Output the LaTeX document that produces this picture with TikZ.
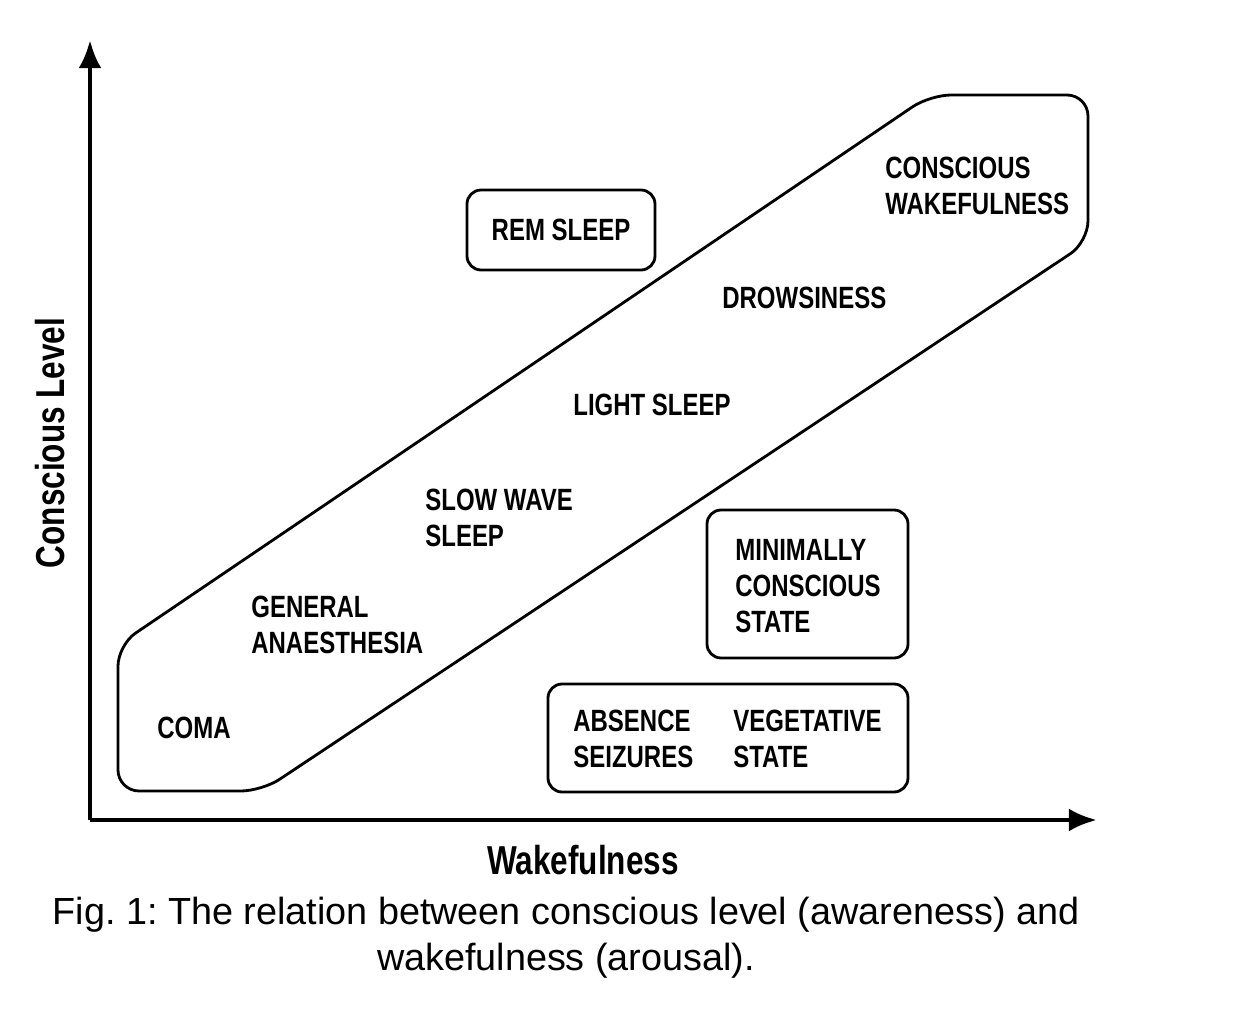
\documentclass[tikz,border=0pt]{standalone}
\usepackage{fontspec}
\setmainfont{Liberation Sans}
\newfontfamily\lblfont[FakeStretch=0.78]{Liberation Sans}
\usetikzlibrary{calc,positioning}
\tikzset{
  lbl/.style={font=\lblfont\bfseries\fontsize{17.5}{20.5}\selectfont,align=left,anchor=west,inner sep=0pt},
  box/.style={draw,line width=1.6pt,rounded corners=8pt},
  axis/.style={line width=2.6pt,-{Latex[length=16pt,width=13pt]}}
}
\usetikzlibrary{arrows.meta}
\frenchspacing
\begin{document}
\begin{tikzpicture}[x=0.02cm,y=-0.02cm]
  \useasboundingbox (0,0) rectangle (1248,1010);
  % axes
  \coordinate (o) at (90,820);
  \coordinate (ytop) at (90,40);
  \coordinate (xend) at (1097,820);
  \draw[axis] (o) -- (ytop);
  \draw[axis] (o) -- (xend);
  \node[font=\lblfont\bfseries\fontsize{23}{25}\selectfont,rotate=90] (ylab) at (50,443) {Conscious Level};
  \node[font=\lblfont\bfseries\fontsize{23}{25}\selectfont] (xlab) at (583,860) {Wakefulness};
  % band
  \draw[line width=1.6pt,rounded corners=12pt] (118,645) -- (930,95) -- (1088,95) -- (1088,242) -- (262,791) -- (118,791) -- cycle;
  % boxes
  \draw[box] (467,190) rectangle (655,270);
  \draw[box] (707,510) rectangle (908,658);
  \draw[box] (548,684) rectangle (908,792);
  % labels
  \node[lbl] (cw) at (885,186) {CONSCIOUS\\WAKEFULNESS};
  \node[lbl] (dr) at (722,298) {DROWSINESS};
  \node[lbl] (ls) at (573,405) {LIGHT SLEEP};
  \node[lbl] (sws) at (425,518) {SLOW WAVE\\SLEEP};
  \node[lbl] (ga) at (251,625) {GENERAL\\ANAESTHESIA};
  \node[lbl] (coma) at (157,728) {COMA};
  \node[lbl,anchor=center] (rem) at (561,230) {REM SLEEP};
  \node[lbl] (mcs) at (735,586) {MINIMALLY\\CONSCIOUS\\STATE};
  \node[lbl] (abs) at (573,739) {ABSENCE\\SEIZURES};
  \node[lbl] (veg) at (733,739) {VEGETATIVE\\STATE};
  % caption
  \node[font=\fontsize{21.5}{26}\selectfont,align=center] (cap) at (566,938)
    {Fig. 1: The relation between conscious level (awareness) and\\wakefulness (arousal).};
\end{tikzpicture}
\end{document}
